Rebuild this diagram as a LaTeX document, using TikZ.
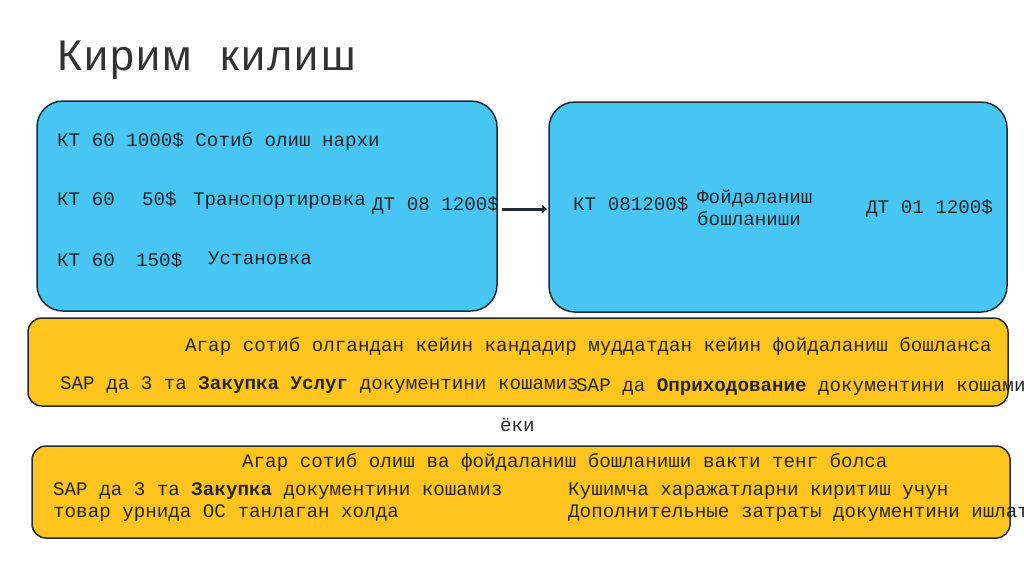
\documentclass[tikz,border=0pt]{standalone}
\usepackage{fontspec}
\setmainfont{Liberation Sans}
\newfontfamily\mono{Liberation Mono}
\newfontfamily\titlefont[LetterSpace=5]{Liberation Sans}
\usetikzlibrary{arrows.meta}
\definecolor{bblue}{HTML}{47C5F3}
\definecolor{byel}{HTML}{FFC41E}
\definecolor{bord}{HTML}{1F2A33}
\begin{document}
\begin{tikzpicture}[x=1pt,y=-1pt,
  bluebox/.style={draw=bord,line width=1.5pt,fill=bblue,rounded corners=26pt},
  yelbox/.style={draw=bord,line width=1.5pt,fill=byel,rounded corners=14pt},
  txt/.style={anchor=base west,inner sep=0pt,font=\mono\fontsize{19.2}{22}\selectfont,text=black!85}]
\useasboundingbox (0,0) rectangle (1024,574);
\clip (0,0) rectangle (1024,574);
\node[anchor=base west,inner sep=0pt,font=\titlefont\fontsize{43}{48}\selectfont,text=black!80] (title) at (57,70) {Кирим\ \ килиш};
\draw[bluebox] (37,101) rectangle (497,311) node[pos=0.5] (b1) {};
\draw[bluebox] (549,102) rectangle (1007,312) node[pos=0.5] (b2) {};
\draw[yelbox] (28,318) rectangle (1008,406) node[pos=0.5] (y1) {};
\draw[yelbox] (32,446) rectangle (1010,538) node[pos=0.5] (y2) {};
\node[txt] (a1) at (57,146) {КТ 60 1000\$ Сотиб олиш нархи};
\node[txt] (a2) at (57,205) {КТ 60};
\node[txt] (a3) at (142,205) {50\$};
\node[txt] (a4) at (193,205) {Транспортировка};
\node[txt] (a5) at (57,266) {КТ 60};
\node[txt] (a6) at (136,266) {150\$};
\node[txt] (a7) at (208,264) {Установка};
\node[txt] (a8) at (372,210) {ДТ 08 1200\$};
\node[txt] (c1) at (573,210) {КТ 081200\$};
\node[txt] (c2) at (697,203) {Фойдаланиш};
\node[txt] (c3) at (697,225) {бошланиши};
\node[txt] (c4) at (866,213) {ДТ 01 1200\$};
\coordinate (p1) at (502,209);
\coordinate (p2) at (547,209);
\draw[line width=3pt,draw=bord,-{Triangle[length=5pt,width=8pt]}] (p1) -- (p2);
\node[txt] (d1) at (185,351) {Агар сотиб олгандан кейин кандадир муддатдан кейин фойдаланиш бошланса};
\node[txt] (d2) at (60,389) {SAP да 3 та \textbf{Закупка Услуг} документини кошамиз};
\node[txt] (d3) at (576,391) {SAP да \textbf{Оприходование} документини кошамиз};
\node[txt] (e0) at (500,431) {ёки};
\node[txt] (f1) at (242,467) {Агар сотиб олиш ва фойдаланиш бошланиши вакти тенг болса};
\node[txt] (f2) at (53,495) {SAP да 3 та \textbf{Закупка} документини кошамиз};
\node[txt] (f3) at (53,517) {товар урнида ОС танлаган холда};
\node[txt] (f4) at (568,495) {Кушимча харажатларни киритиш учун};
\node[txt] (f5) at (568,517) {Дополнительные затраты документини ишлатиш};
\end{tikzpicture}
\end{document}
